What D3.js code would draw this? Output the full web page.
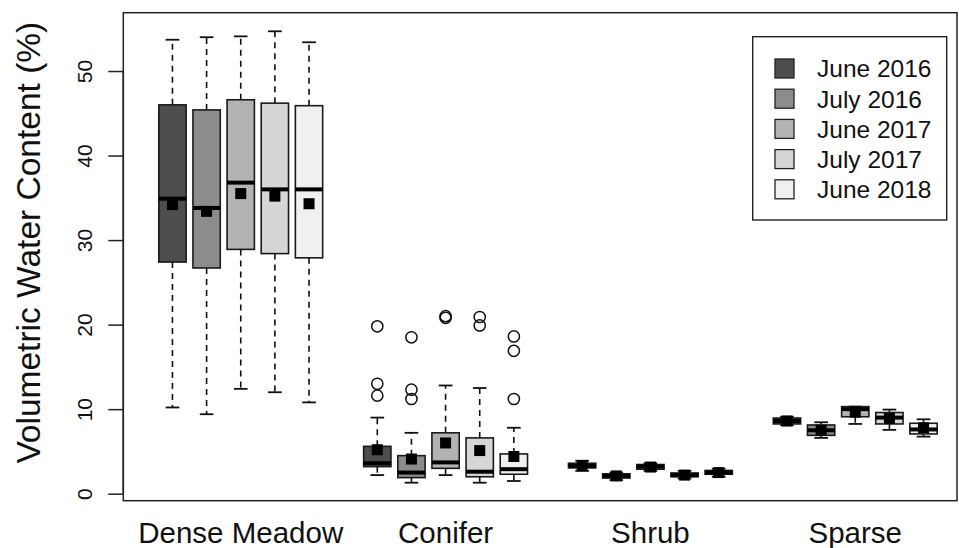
<!DOCTYPE html>
<html>
<head>
<meta charset="utf-8">
<script src="https://cdn.jsdelivr.net/npm/d3@7"></script>
<style>
  html, body { margin: 0; padding: 0; background: #fff; }
  svg { display: block; font-family: "Liberation Sans", Arial, Helvetica, sans-serif; }
</style>
</head>
<body>
<svg id="chart" width="959" height="548"></svg>
<script>
// Vegetation classes along the x axis and sampling periods within each class
const groups = ["Dense Meadow", "Conifer", "Shrub", "Sparse"];
const periods = ["June 2016", "July 2016", "June 2017", "July 2017", "June 2018"];
const periodFills = ["#4d4d4d", "#8c8c8c", "#b3b3b3", "#d6d6d6", "#f0f0f0"];

// Box statistics, one row per vegetation class, one column per period (VWC %)
const whiskerLow = [
  [10.2, 9.4, 12.4, 12.0, 10.8],
  [2.2, 1.3, 2.2, 1.3, 1.5],
  [2.7, 1.6, 2.7, 1.8, 2.0],
  [8.1, 6.6, 8.25, 7.55, 6.75]
];
const quartile1 = [
  [27.4, 26.7, 28.9, 28.4, 27.9],
  [3.2, 1.9, 3.0, 2.0, 2.3],
  [3.05, 1.85, 2.9, 2.0, 2.3],
  [8.25, 6.9, 9.1, 8.25, 7.07]
];
const medians = [
  [34.9, 33.8, 36.8, 36.0, 36.0],
  [3.6, 2.5, 3.7, 2.6, 2.9],
  [3.3, 2.1, 3.2, 2.2, 2.5],
  [8.6, 7.5, 10.0, 9.0, 7.6]
];
const quartile3 = [
  [46.0, 45.4, 46.6, 46.2, 45.9],
  [5.6, 4.5, 7.2, 6.6, 4.7],
  [3.6, 2.35, 3.45, 2.45, 2.75],
  [8.95, 8.13, 10.3, 9.6, 8.33]
];
const whiskerHigh = [
  [53.7, 54.0, 54.1, 54.7, 53.4],
  [9.0, 7.2, 12.8, 12.5, 7.8],
  [3.9, 2.5, 3.6, 2.7, 2.95],
  [9.1, 8.45, 10.3, 9.95, 8.8]
];
const means = [
  [34.2, 33.4, 35.5, 35.2, 34.3],
  [5.2, 4.1, 6.0, 5.1, 4.4],
  [3.3, 2.1, 3.15, 2.2, 2.5],
  [8.6, 7.5, 9.65, 8.9, 7.8]
];
const outliers = [
  [[], [], [], [], []],
  [[19.8, 13.0, 11.6], [18.5, 12.3, 11.2], [20.8, 21.0], [20.9, 19.9], [18.6, 16.9, 11.2]],
  [[], [], [], [], []],
  [[], [], [], [], []]
];

const yTicks = [0, 10, 20, 30, 40, 50];
const yLimits = [-0.83, 56.9];
// Slot axis: one slot per box, an empty slot between classes
const xLimits = [-0.44, 23.98];

const svg = d3.select("#chart");
const plot = { left: 123.3, right: 957, top: 12.7, bottom: 500.7 };

const x = d3.scaleLinear().domain(xLimits).range([plot.left, plot.right]);
const y = d3.scaleLinear().domain(yLimits).range([plot.bottom, plot.top]);

const slotOf = (g, p) => g * 6 + p + 1;
const boxW = x(0.8) - x(0);
const capW = boxW * 0.5;

// Flatten rows into box records
const boxes = [];
groups.forEach((gName, g) => {
  periods.forEach((pName, p) => {
    boxes.push({
      slot: slotOf(g, p), fill: periodFills[p],
      lo: whiskerLow[g][p], q1: quartile1[g][p], med: medians[g][p],
      q3: quartile3[g][p], hi: whiskerHigh[g][p], mean: means[g][p],
      out: outliers[g][p]
    });
  });
});

const marks = svg.append("g");

// Whiskers (dashed) and staples
marks.selectAll(".whisker-up").data(boxes).join("line")
  .attr("x1", d => x(d.slot)).attr("x2", d => x(d.slot))
  .attr("y1", d => y(d.q3)).attr("y2", d => y(d.hi))
  .attr("stroke", "#111").attr("stroke-width", 1.6).attr("stroke-dasharray", "6,5");
marks.selectAll(".whisker-down").data(boxes).join("line")
  .attr("x1", d => x(d.slot)).attr("x2", d => x(d.slot))
  .attr("y1", d => y(d.q1)).attr("y2", d => y(d.lo))
  .attr("stroke", "#111").attr("stroke-width", 1.6).attr("stroke-dasharray", "6,5");
marks.selectAll(".cap-hi").data(boxes).join("line")
  .attr("x1", d => x(d.slot) - capW / 2).attr("x2", d => x(d.slot) + capW / 2)
  .attr("y1", d => y(d.hi)).attr("y2", d => y(d.hi))
  .attr("stroke", "#111").attr("stroke-width", 1.8);
marks.selectAll(".cap-lo").data(boxes).join("line")
  .attr("x1", d => x(d.slot) - capW / 2).attr("x2", d => x(d.slot) + capW / 2)
  .attr("y1", d => y(d.lo)).attr("y2", d => y(d.lo))
  .attr("stroke", "#111").attr("stroke-width", 1.8);

// Boxes
marks.selectAll(".box").data(boxes).join("rect")
  .attr("x", d => x(d.slot) - boxW / 2).attr("width", boxW)
  .attr("y", d => y(d.q3)).attr("height", d => Math.max(0.5, y(d.q1) - y(d.q3)))
  .attr("fill", d => d.fill).attr("stroke", "#1a1a1a").attr("stroke-width", 1.6);

// Medians
marks.selectAll(".median").data(boxes).join("line")
  .attr("x1", d => x(d.slot) - boxW / 2).attr("x2", d => x(d.slot) + boxW / 2)
  .attr("y1", d => y(d.med)).attr("y2", d => y(d.med))
  .attr("stroke", "#000").attr("stroke-width", 4);

// Means as filled squares
const sq = 11;
marks.selectAll(".mean").data(boxes).join("rect")
  .attr("x", d => x(d.slot) - sq / 2).attr("y", d => y(d.mean) - sq / 2)
  .attr("width", sq).attr("height", sq).attr("fill", "#000");

// Outliers as open circles
const outPts = boxes.flatMap(d => d.out.map(v => ({ slot: d.slot, v })));
marks.selectAll(".outlier").data(outPts).join("circle")
  .attr("cx", d => x(d.slot)).attr("cy", d => y(d.v)).attr("r", 5.6)
  .attr("fill", "none").attr("stroke", "#111").attr("stroke-width", 1.5);

// Plot frame
svg.append("rect")
  .attr("x", plot.left).attr("y", plot.top)
  .attr("width", plot.right - plot.left).attr("height", plot.bottom - plot.top)
  .attr("fill", "none").attr("stroke", "#222").attr("stroke-width", 1.5);

// Y axis: ticks to the left, labels rotated
const yAxis = svg.append("g").attr("transform", `translate(${plot.left},0)`)
  .call(d3.axisLeft(y).tickValues(yTicks).tickSize(15).tickSizeOuter(0).tickFormat(d3.format("d")));
yAxis.select(".domain")
  .attr("d", `M0,${y(yTicks[0])}V${y(yTicks[yTicks.length - 1])}`)
  .attr("stroke", "#222").attr("stroke-width", 1.5);
yAxis.selectAll(".tick line").attr("stroke", "#222").attr("stroke-width", 1.5);
yAxis.selectAll(".tick text")
  .attr("x", null).attr("dy", null)
  .attr("transform", "translate(-31,0) rotate(-90)")
  .attr("text-anchor", "middle")
  .attr("font-size", 21).attr("fill", "#111")
  .style("font-family", "'Liberation Sans', Arial, sans-serif");

// Category labels below the frame
svg.append("g").selectAll("text").data(groups).join("text")
  .attr("x", (d, i) => x(slotOf(i, 2)))
  .attr("y", 543)
  .attr("text-anchor", "middle")
  .attr("font-size", 29.5).attr("fill", "#111")
  .text(d => d);

// Y axis title
svg.append("text")
  .attr("transform", `translate(40,${(plot.top + plot.bottom) / 2 - 14}) rotate(-90)`)
  .attr("text-anchor", "middle")
  .attr("font-size", 33.5).attr("fill", "#111")
  .text("Volumetric Water Content (%)");

// Legend
const legend = svg.append("g");
legend.append("rect")
  .attr("x", 752.7).attr("y", 36.7).attr("width", 194).attr("height", 183.3)
  .attr("fill", "#fff").attr("stroke", "#222").attr("stroke-width", 1.4);
const rowY = d3.scalePoint().domain(periods).range([68.5, 189.3]);
const items = legend.selectAll(".item").data(periods).join("g")
  .attr("transform", d => `translate(0,${rowY(d)})`);
items.append("rect")
  .attr("x", 775).attr("y", -9.5).attr("width", 19).attr("height", 19)
  .attr("fill", (d, i) => periodFills[i]).attr("stroke", "#222").attr("stroke-width", 1.3);
items.append("text")
  .attr("x", 817).attr("y", 0).attr("dy", "0.36em")
  .attr("font-size", 24.5).attr("fill", "#111")
  .text(d => d);
</script>
</body>
</html>
